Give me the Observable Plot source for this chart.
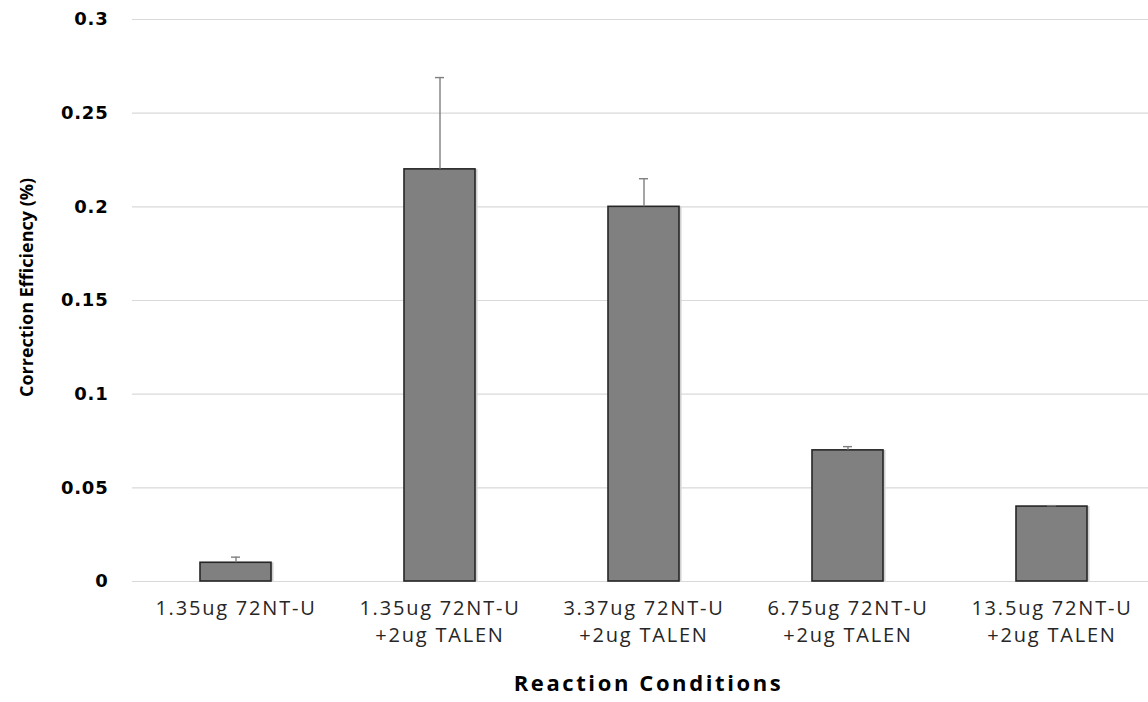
<!DOCTYPE html>
<html><head><meta charset="utf-8">
<script src="https://cdn.jsdelivr.net/npm/d3@7"></script>
<script src="https://cdn.jsdelivr.net/npm/@observablehq/plot@0.6"></script>
<style>
body{margin:0;background:#fff;overflow:hidden;}
g[aria-label="x-axis tick label"] text{letter-spacing:1.8px}
g[aria-label="y-axis tick label"] text{letter-spacing:0.8px}
</style></head><body><div id="chart"></div>
<script>
const categories = [
  "1.35ug 72NT-U",
  "1.35ug 72NT-U\n+2ug TALEN",
  "3.37ug 72NT-U\n+2ug TALEN",
  "6.75ug 72NT-U\n+2ug TALEN",
  "13.5ug 72NT-U\n+2ug TALEN"
];
const values = [0.01, 0.22, 0.20, 0.07, 0.04];
const errors = [0.003, 0.049, 0.015, 0.002, 0.0005];
const yTicks = [0, 0.05, 0.1, 0.15, 0.2, 0.25, 0.3];
const yTickLabels = ["0", "0.05", "0.1", "0.15", "0.2", "0.25", "0.3"];
const xTitle = "Reaction Conditions";
const yTitle = "Correction Efficiency (%)";

const rows = categories.map((c, i) => ({cat: c, value: values[i], err: errors[i], top: values[i] + errors[i]}));

const chart = Plot.plot({
  width: 1148,
  height: 702,
  marginLeft: 132,
  marginRight: 0,
  marginTop: 19,
  marginBottom: 121,
  style: {background: "#fff"},
  x: {type: "band", domain: categories, range: [132, 1155], paddingInner: 0.653, paddingOuter: 0.3265},
  y: {domain: [0, 0.3]},
  marks: [
    Plot.gridY(yTicks, {stroke: "#d9d9d9", strokeOpacity: 1, strokeWidth: 1.2}),
    Plot.axisY(yTicks, {
      tickSize: 0, tickPadding: 24, label: null,
      tickFormat: (d) => yTickLabels[yTicks.indexOf(d)],
      fontSize: 18, fontWeight: "bold", fontFamily: "DejaVu Sans", fill: "#000"
    }),
    Plot.axisX({
      tickSize: 0, tickPadding: 14, label: null, fontSize: 20, lineHeight: 1.35,
      fontFamily: "Open Sans", fill: "#262626"
    }),
    Plot.barY(rows, {x: "cat", y: "value", fill: "#d0d0d0", dx: 2.5, dy: 0}),
    Plot.barY(rows, {x: "cat", y: "value", fill: "#808080", stroke: "#262626", strokeWidth: 1.6}),
    Plot.ruleX(rows, {x: "cat", y1: "value", y2: "top", stroke: "#7f7f7f", strokeWidth: 1.4}),
    Plot.tickY(rows, {x: "cat", y: "top", stroke: "#7f7f7f", strokeWidth: 1.4, insetLeft: 31, insetRight: 31}),
    Plot.text([xTitle], {frameAnchor: "bottom", dx: 8, dy: 109, fontSize: 22, fontWeight: "bold", fontFamily: "Open Sans", fill: "#000"}),
    Plot.text([yTitle], {frameAnchor: "left", textAnchor: "middle", dx: -105, dy: -13, rotate: -90, fontSize: 18, fontWeight: "bold", fontFamily: "Open Sans", fill: "#000"})
  ]
});
d3.select(chart).selectAll("text").filter(function () { return this.textContent === xTitle; }).style("letter-spacing", "2.6px");
document.getElementById("chart").append(chart);
</script>
</body></html>
